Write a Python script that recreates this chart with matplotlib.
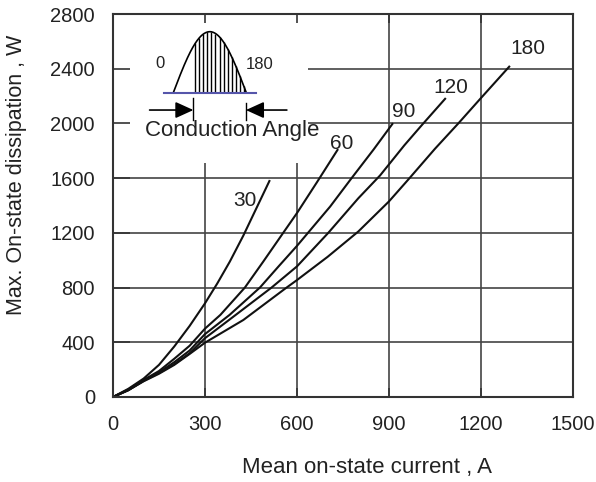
import numpy as np
import matplotlib.pyplot as plt
from matplotlib.patches import Rectangle

plt.rcParams['font.family'] = ['Liberation Sans', 'DejaVu Sans']

# Mean on-state current (A) vs max. on-state dissipation (W), per conduction angle
I_30 = [0, 50, 100, 150, 200, 250, 300, 340, 381, 425, 510]
P_30 = [0, 60, 135, 235, 370, 520, 685, 830, 990, 1180, 1579]

I_60 = [0, 50, 100, 150, 200, 250, 300, 350, 430, 490, 555, 600, 665, 732]
P_60 = [0, 55, 125, 190, 280, 375, 500, 600, 800, 990, 1200, 1345, 1570, 1806]

I_90 = [0, 50, 100, 150, 200, 250, 300, 380, 479, 540, 600, 708, 778, 850, 911]
P_90 = [0, 50, 120, 180, 255, 340, 460, 600, 800, 955, 1105, 1392, 1600, 1810, 1996]

I_120 = [0, 50, 100, 150, 200, 250, 300, 400, 517, 600, 702, 800, 871, 950, 1006, 1083]
P_120 = [0, 50, 118, 175, 240, 320, 430, 600, 800, 955, 1200, 1453, 1620, 1840, 1985, 2180]

I_180 = [0, 50, 100, 150, 200, 250, 300, 425, 560, 600, 700, 800, 900, 963, 1050, 1126, 1194, 1292]
P_180 = [0, 50, 115, 170, 235, 315, 397, 563, 790, 855, 1025, 1210, 1430, 1590, 1815, 2000, 2171, 2415]

curves = [(I_30, P_30, '30', (430, 1440)),
          (I_60, P_60, '60', (745, 1850)),
          (I_90, P_90, '90', (948, 2085)),
          (I_120, P_120, '120', (1100, 2265)),
          (I_180, P_180, '180', (1352, 2550))]

xticks = [0, 300, 600, 900, 1200, 1500]
yticks = [0, 400, 800, 1200, 1600, 2000, 2400, 2800]

fig = plt.figure(figsize=(5.96, 4.82), dpi=100)
ax = fig.add_axes([113/596, 1 - 397/482, 460/596, 383/482])
ax.set_xlim(0, 1500)
ax.set_ylim(0, 2800)

# grid drawn by hand so the inset box can hide it while ticks stay on top
for x in xticks[1:-1]:
    ax.axvline(x, color='#444444', lw=1.2, zorder=0.8)
for y in yticks[1:-1]:
    ax.axhline(y, color='#444444', lw=1.2, zorder=0.8)
ax.add_patch(Rectangle((0, 1 - 149/383), 195/460, 149/383, transform=ax.transAxes,
                       facecolor='white', edgecolor='none', zorder=1))

for I, P, lab, pos in curves:
    ax.plot(I, P, color='#111111', lw=1.5, zorder=2)
    ax.text(pos[0], pos[1], lab, fontsize=15, ha='center', va='center', color='#222222')

ax.set_xticks(xticks)
ax.set_yticks(yticks)
ax.tick_params(axis='both', labelsize=14.5, direction='in', color='#333333', width=1.2, labelcolor='#222222')
ax.tick_params(axis='y', length=12, pad=13)
ax.tick_params(axis='x', length=6.5, pad=13, top=True)
for s in ax.spines.values():
    s.set_color('#333333')
    s.set_linewidth(1.5)

fig.text(367/596, 1 - 468/482, 'Mean on-state current , A', fontsize=16,
         ha='center', va='center', color='#222222')
fig.text(17/596, 1 - 175/482, 'Max. On-state dissipation , W', fontsize=15.5,
         rotation=90, ha='center', va='center', color='#222222')

# conduction angle sketch (angle units in degrees, sine amplitude 1)
axi = fig.add_axes([113/596, 1 - 163/482, 195/596, 149/482])
axi.set_xlim(-148.7, 332.1)
axi.set_ylim(-1.152, 1.290)
axi.axis('off')
axi.patch.set_alpha(0)
th = np.linspace(0, 180, 181)
axi.plot(th, np.sin(np.radians(th)), color='black', lw=1.2)
hatch = np.arange(54, 180, 10)
axi.vlines(hatch, 0, np.sin(np.radians(hatch)), color='black', lw=1.0)
axi.plot([-24, 203], [0, 0], color='#5555aa', lw=1.5)
axi.plot([49.6, 49.6], [-0.08, -0.45], color='black', lw=1.0)
axi.plot([179, 179], [-0.17, -0.45], color='black', lw=1.0)
arw = dict(arrowstyle='-|>,head_length=1.1,head_width=0.5', color='black', lw=1.2,
           shrinkA=0, shrinkB=0)
axi.annotate('', xy=(49.6, -0.284), xytext=(-58.5, -0.284), arrowprops=arw)
axi.annotate('', xy=(179, -0.284), xytext=(280, -0.284), arrowprops=arw)
axi.text(-32, 0.48, '0', fontsize=12, ha='center', va='center', color='#222222')
axi.text(212, 0.465, '180', fontsize=12, ha='center', va='center', color='#222222')
axi.text(144, -0.62, 'Conduction Angle', fontsize=16, ha='center', va='center', color='#222222')

fig.savefig('out.png', dpi=100)
